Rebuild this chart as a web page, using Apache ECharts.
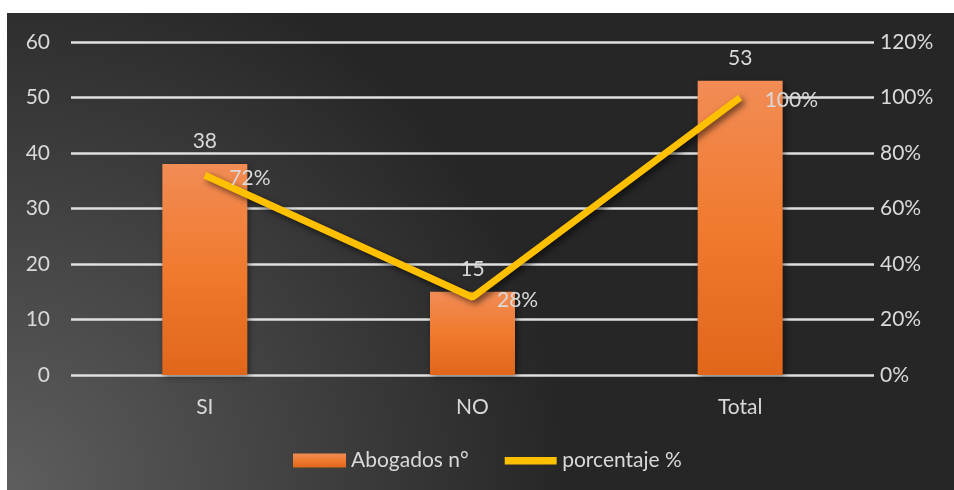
<!DOCTYPE html>
<html>
<head>
<meta charset="utf-8">
<script src="https://cdn.jsdelivr.net/npm/echarts@6/dist/echarts.min.js"></script>
<style>
  html, body { margin: 0; padding: 0; background: #ffffff; }
  #bg { position: absolute; left: 7px; top: 13px; width: 947px; height: 477px;
        background: radial-gradient(circle 560px at 0% 100%, #5e5e5e 0%, #262626 100%); }
  #chart { position: absolute; left: 0; top: 0; width: 954px; height: 490px; }
</style>
</head>
<body>
<div id="bg"></div>
<div id="chart"></div>
<script>
const categories = ['SI', 'NO', 'Total'];
const abogados = [38, 15, 53];
const porcentaje = [72, 28, 100];
const leftTicks = [0, 10, 20, 30, 40, 50, 60];
const rightTicks = [0, 20, 40, 60, 80, 100, 120];

const FONT = 'Lato';
const TXT = '#d9d9d9';
const FS = 21;

const chart = echarts.init(document.getElementById('chart'), null, { renderer: 'canvas' });
chart.setOption({
  backgroundColor: 'transparent',
  animation: false,
  textStyle: { fontFamily: FONT },
  grid: { left: 71, right: 80, top: 42, bottom: 115 },
  legend: {
    top: 445,
    left: 288,
    itemWidth: 53,
    itemHeight: 14,
    itemGap: 36,
    textStyle: { color: TXT, fontSize: FS, fontFamily: FONT },
    data: [
      { name: 'Abogados n°', icon: 'rect' },
      { name: 'porcentaje %', icon: 'path://M0,3.5 L52,3.5 L52,11 L0,11 Z M0,0 L0.01,0 L0.01,0.01 Z M52,14 L52.01,14 L52.01,14.01 Z',
        itemStyle: { color: '#FFC000', opacity: 1 } }
    ]
  },
  xAxis: {
    type: 'category',
    data: categories,
    axisLine: { show: false },
    axisTick: { show: false },
    axisLabel: { color: TXT, fontSize: FS, fontFamily: FONT, margin: 22 }
  },
  yAxis: [
    {
      type: 'value', min: leftTicks[0], max: leftTicks[leftTicks.length - 1], interval: 10,
      axisLine: { show: false }, axisTick: { show: false },
      axisLabel: { color: TXT, fontSize: FS, fontFamily: FONT, margin: 21 },
      splitLine: { lineStyle: { color: '#e0e0e0', width: 2.5 } }
    },
    {
      type: 'value', min: rightTicks[0], max: rightTicks[rightTicks.length - 1], interval: 20,
      axisLine: { show: false }, axisTick: { show: false },
      axisLabel: { color: TXT, fontSize: FS, fontFamily: FONT, margin: 6, formatter: '{value}%' },
      splitLine: { show: false }
    }
  ],
  series: [
    {
      name: 'Abogados n°',
      type: 'bar',
      data: abogados,
      barWidth: 85,
      itemStyle: {
        color: new echarts.graphic.LinearGradient(0, 0, 0, 1, [
          { offset: 0, color: '#f28c55' },
          { offset: 0.5, color: '#f07a2e' },
          { offset: 1, color: '#e0661a' }
        ]),
        shadowColor: 'rgba(0,0,0,0.45)',
        shadowBlur: 6,
        shadowOffsetX: 2,
        shadowOffsetY: 2
      },
      label: { show: true, position: 'top', distance: 12, color: TXT, fontSize: FS, fontFamily: FONT }
    },
    {
      name: 'porcentaje %',
      type: 'line',
      yAxisIndex: 1,
      data: porcentaje,
      symbol: 'circle',
      symbolSize: 1,
      showSymbol: true,
      z: 3,
      lineStyle: {
        color: '#FFC000', width: 7,
        shadowColor: 'rgba(0,0,0,0.6)', shadowBlur: 6, shadowOffsetX: 3, shadowOffsetY: 3
      },
      itemStyle: { color: '#FFC000', opacity: 0 },
      label: { show: true, position: 'right', distance: 24, offset: [0, 3], color: TXT, fontSize: FS, fontFamily: FONT,
               opacity: 1, formatter: p => p.value + '%' }
    }
  ]
});
</script>
</body>
</html>
